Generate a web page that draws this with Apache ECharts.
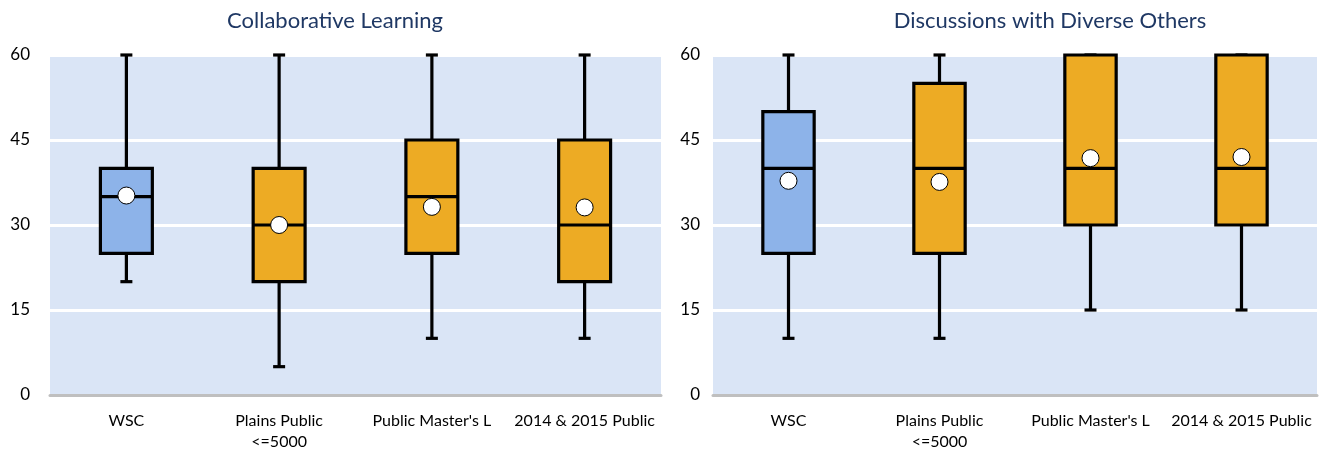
<!DOCTYPE html>
<html>
<head>
<meta charset="utf-8">
<script src="https://cdn.jsdelivr.net/npm/echarts@6/dist/echarts.min.js"></script>
<style>
  html, body { margin: 0; padding: 0; background: #fff; }
  #main { width: 1322px; height: 452px; }
</style>
</head>
<body>
<div id="main"></div>
<script>
// categories shared by both panels
var categories = ['WSC', 'Plains Public\n<=5000', "Public Master's L", '2014 & 2015 Public'];

// Collaborative Learning
var clMin = [20, 5, 10, 10];
var clQ1 = [25, 20, 25, 20];
var clMed = [35, 30, 35, 30];
var clQ3 = [40, 40, 45, 45];
var clMax = [60, 60, 60, 60];
var clMean = [35.2, 30, 33.2, 33.1];

// Discussions with Diverse Others
var ddMin = [10, 10, 15, 15];
var ddQ1 = [25, 25, 30, 30];
var ddMed = [40, 40, 40, 40];
var ddQ3 = [50, 55, 60, 60];
var ddMax = [60, 60, 60, 60];
var ddMean = [37.8, 37.6, 41.8, 42];

var yTicks = [0, 15, 30, 45, 60];

var boxColors = ['#8DB3E9', '#EDAB24', '#EDAB24', '#EDAB24'];

function boxData(mins, q1s, meds, q3s, maxs) {
  return categories.map(function (c, i) {
    return {
      value: [i, mins[i], q1s[i], meds[i], q3s[i], maxs[i]],
      itemStyle: { color: boxColors[i] }
    };
  });
}

function meanData(means) {
  return means.map(function (m, i) { return [i, m]; });
}

function renderBox(params, api) {
  var i = api.value(0);
  var pMin = api.coord([i, api.value(1)]);
  var pQ1 = api.coord([i, api.value(2)]);
  var pMed = api.coord([i, api.value(3)]);
  var pQ3 = api.coord([i, api.value(4)]);
  var pMax = api.coord([i, api.value(5)]);
  var bw = api.size([1, 0])[0] * 0.34;
  var cx = pMed[0];
  var capW = 12;
  var line = { stroke: '#000', lineWidth: 3.2 };
  return {
    type: 'group',
    children: [
      { type: 'line', shape: { x1: cx, y1: pMin[1], x2: cx, y2: pQ1[1] }, style: line },
      { type: 'line', shape: { x1: cx, y1: pQ3[1], x2: cx, y2: pMax[1] }, style: line },
      { type: 'line', shape: { x1: cx - capW / 2, y1: pMin[1], x2: cx + capW / 2, y2: pMin[1] }, style: line },
      { type: 'line', shape: { x1: cx - capW / 2, y1: pMax[1], x2: cx + capW / 2, y2: pMax[1] }, style: line },
      {
        type: 'rect',
        shape: { x: cx - bw / 2, y: pQ3[1], width: bw, height: pQ1[1] - pQ3[1] },
        style: { fill: api.visual('color'), stroke: '#000', lineWidth: 3.2 }
      },
      { type: 'line', shape: { x1: cx - bw / 2, y1: pMed[1], x2: cx + bw / 2, y2: pMed[1] }, style: line }
    ]
  };
}

function makeAxes(gridIndex) {
  return {
    x: {
      type: 'category',
      gridIndex: gridIndex,
      data: categories,
      axisTick: { show: false },
      axisLine: { lineStyle: { color: '#BFBFBF', width: 3 } },
      axisLabel: { color: '#000', fontSize: 16, fontFamily: 'Lato', margin: 15, lineHeight: 21, interval: 0 }
    },
    y: {
      type: 'value',
      gridIndex: gridIndex,
      min: 0,
      max: 60,
      interval: 15,
      axisLine: { show: false },
      axisTick: { show: false },
      axisLabel: { color: '#000', fontSize: 17, fontFamily: 'Lato', margin: gridIndex === 0 ? 20 : 13 },
      splitLine: { lineStyle: { color: '#fff', width: 3 } }
    }
  };
}

var a0 = makeAxes(0);
var a1 = makeAxes(1);

var meanStyle = { color: '#fff', borderColor: '#000', borderWidth: 1, opacity: 1 };

var chart = echarts.init(document.getElementById('main'));
chart.setOption({
  animation: false,
  title: [
    { text: 'Collaborative Learning', left: 330, top: 5, textAlign: 'center',
      textStyle: { color: '#1F3864', fontSize: 22, fontWeight: 'normal', fontFamily: 'Lato' } },
    { text: 'Discussions with Diverse Others', left: 1045, top: 5, textAlign: 'center',
      textStyle: { color: '#1F3864', fontSize: 22, fontWeight: 'normal', fontFamily: 'Lato' } }
  ],
  grid: [
    { left: 50, right: 661, top: 55, bottom: 57, show: true, backgroundColor: '#DAE5F6', borderWidth: 0 },
    { left: 713, right: 5, top: 55, bottom: 57, show: true, backgroundColor: '#DAE5F6', borderWidth: 0 }
  ],
  xAxis: [a0.x, a1.x],
  yAxis: [a0.y, a1.y],
  series: [
    { type: 'custom', name: 'Collaborative Learning', xAxisIndex: 0, yAxisIndex: 0,
      renderItem: renderBox, clip: false, encode: { x: 0, y: [1, 2, 3, 4, 5] },
      data: boxData(clMin, clQ1, clMed, clQ3, clMax), z: 3 },
    { type: 'scatter', xAxisIndex: 0, yAxisIndex: 0, data: meanData(clMean),
      symbolSize: 17, itemStyle: meanStyle, z: 5 },
    { type: 'custom', name: 'Discussions with Diverse Others', xAxisIndex: 1, yAxisIndex: 1,
      renderItem: renderBox, clip: false, encode: { x: 0, y: [1, 2, 3, 4, 5] },
      data: boxData(ddMin, ddQ1, ddMed, ddQ3, ddMax), z: 3 },
    { type: 'scatter', xAxisIndex: 1, yAxisIndex: 1, data: meanData(ddMean),
      symbolSize: 17, itemStyle: meanStyle, z: 5 }
  ]
});
</script>
</body>
</html>
